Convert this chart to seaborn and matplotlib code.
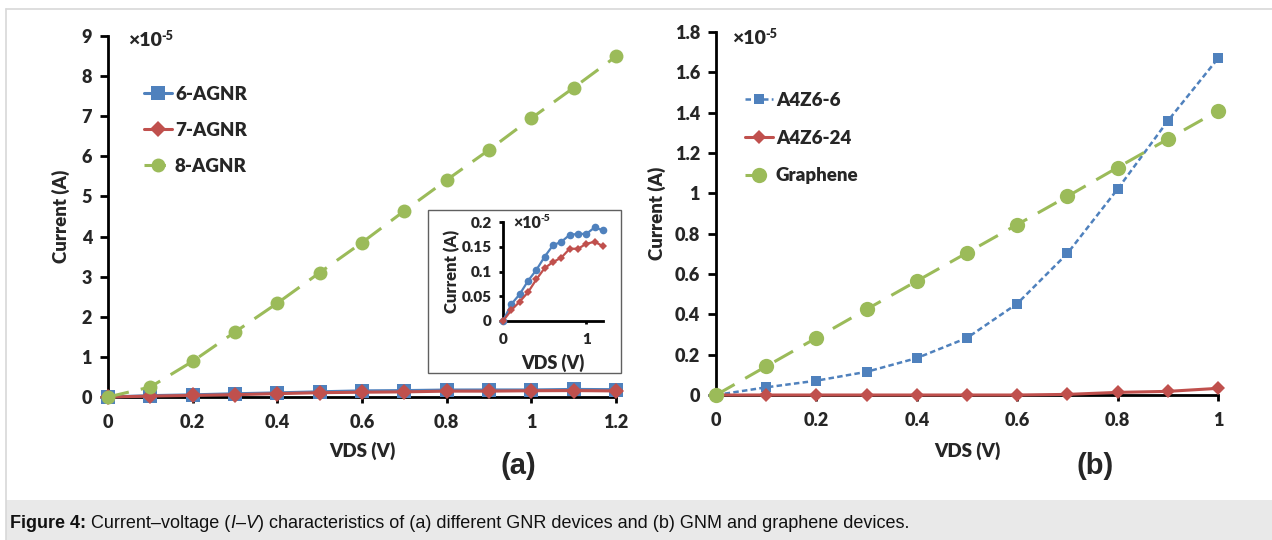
import matplotlib
matplotlib.use("Agg")
import matplotlib.pyplot as plt
import seaborn as sns
from matplotlib.patches import Rectangle
from matplotlib.lines import Line2D

# ---------------- data ----------------
vds_a = [0.0, 0.1, 0.2, 0.3, 0.4, 0.5, 0.6, 0.7, 0.8, 0.9, 1.0, 1.1, 1.2]
agnr6 = [0, 0.034, 0.054, 0.081, 0.103, 0.130, 0.153, 0.160, 0.174, 0.176, 0.176, 0.189, 0.183]
agnr7 = [0, 0.022, 0.039, 0.058, 0.084, 0.107, 0.119, 0.128, 0.146, 0.146, 0.156, 0.160, 0.151]
agnr8 = [0, 0.25, 0.89, 1.62, 2.34, 3.10, 3.85, 4.64, 5.41, 6.16, 6.95, 7.71, 8.49]

vds_b = [0.0, 0.1, 0.2, 0.3, 0.4, 0.5, 0.6, 0.7, 0.8, 0.9, 1.0]
a4z6_6 = [0, 0.038, 0.071, 0.115, 0.183, 0.283, 0.453, 0.702, 1.021, 1.359, 1.669]
a4z6_24 = [0, 0, 0, 0, 0, 0, 0, 0.003, 0.013, 0.018, 0.033]
graphene = [0, 0.142, 0.283, 0.425, 0.565, 0.705, 0.845, 0.985, 1.128, 1.269, 1.409]

yticks_a = [0, 1, 2, 3, 4, 5, 6, 7, 8, 9]
xticks_a = [0, 0.2, 0.4, 0.6, 0.8, 1.0, 1.2]
yticks_b = [0, 0.2, 0.4, 0.6, 0.8, 1.0, 1.2, 1.4, 1.6, 1.8]
xticks_b = [0, 0.2, 0.4, 0.6, 0.8, 1.0]
yticks_in = [0, 0.05, 0.1, 0.15, 0.2]
xticks_in = [0, 1]

caption_parts = [
    ("Figure 4: ", "bold", "normal"),
    ("Current–voltage (", "normal", "normal"),
    ("I", "normal", "italic"),
    ("–", "normal", "normal"),
    ("V", "normal", "italic"),
    (") characteristics of (a) different GNR devices and (b) GNM and graphene devices.",
     "normal", "normal"),
]

BLUE = "#4F81BD"
RED = "#C0504D"
GREEN = "#9BBB59"
WT = "heavy"

sns.set_style("ticks")
plt.rcParams["font.family"] = ["Lato", "DejaVu Sans"]

W, H = 1272, 540
fig = plt.figure(figsize=(W / 100, H / 100), dpi=100)
fig.patch.set_facecolor("white")


def px_axes(left, right, bottom, top):
    return fig.add_axes([left / W, 1 - bottom / H, (right - left) / W, (bottom - top) / H])


def fmt(v):
    return "%g" % v


def style_axes(ax, xt, yt, xlim, ylim, fs, lw=2.0, tl=5.5, xpad=8, ypad=6):
    ax.set_xlim(*xlim)
    ax.set_ylim(*ylim)
    ax.set_xticks(xt)
    ax.set_yticks(yt)
    ax.set_xticklabels([fmt(v) for v in xt], fontsize=fs, fontweight=WT)
    ax.set_yticklabels([fmt(v) for v in yt], fontsize=fs, fontweight=WT)
    for s in ["top", "right"]:
        ax.spines[s].set_visible(False)
    for s in ["left", "bottom"]:
        ax.spines[s].set_linewidth(lw)
        ax.spines[s].set_color("black")
    ax.tick_params(axis="both", direction="out", length=tl, width=lw, color="black")
    ax.tick_params(axis="x", pad=xpad, length=tl * 0.8)
    ax.tick_params(axis="y", pad=ypad)
    ax.set_facecolor("none")


def draw(ax, x, y, color, marker, ms, ls, lw, label, z):
    sns.lineplot(x=x, y=y, ax=ax, color=color, marker=marker, markersize=ms,
                 linestyle=ls, linewidth=lw, markeredgewidth=0, label=label,
                 zorder=z, clip_on=False, legend=False)


def exp_label(ax, x, y, fs_main, fs_sup):
    t = ax.text(x, y, "×10", transform=ax.transAxes, fontsize=fs_main,
                fontweight=WT, ha="left", va="center")
    ax.annotate("-5", xy=(1.0, 1.0), xycoords=t, xytext=(0, 1), textcoords="offset points",
                fontsize=fs_sup, fontweight=WT, ha="left", va="top")


# ---------------- panel (a) ----------------
axa = px_axes(108, 616, 397, 36)
draw(axa, vds_a, agnr6, BLUE, "s", 10, "-", 2.2, "6-AGNR", 3)
draw(axa, vds_a, agnr7, RED, "D", 8, "-", 2.2, "7-AGNR", 4)
draw(axa, vds_a, agnr8, GREEN, "o", 10, (0, (7, 4)), 2.2, "8-AGNR", 5)
style_axes(axa, xticks_a, yticks_a, (0, 1.2), (0, 9), 13)
axa.set_xlabel("VDS (V)", fontsize=13.5, fontweight=WT)
axa.set_ylabel("Current (A)", fontsize=13.5, fontweight=WT)
axa.xaxis.set_label_coords(0.5, -0.125)
axa.yaxis.set_label_coords(-0.075, 0.5)
exp_label(axa, (128 - 108) / 508, (397 - 40) / 361, 14, 9)
axa.legend(loc="upper left", bbox_to_anchor=((144 - 108) / 508, (397 - 86) / 361),
           frameon=False, borderpad=0, borderaxespad=0,
           handlelength=1.5, handletextpad=0.15, labelspacing=1.0,
           prop={"weight": WT, "size": 13.5})

# inset
box = Rectangle((428 / W, 1 - 373 / H), (621 - 428) / W, (373 - 210) / H,
                transform=fig.transFigure, facecolor="white", edgecolor="#606060",
                linewidth=1.0, zorder=10)
fig.patches.append(box)
axi = px_axes(503, 603, 321, 222)
axi.set_zorder(11)
draw(axi, vds_a, agnr6, BLUE, "o", 5.5, "-", 1.6, "6-AGNR", 3)
draw(axi, vds_a, agnr7, RED, "D", 4.5, "-", 1.6, "7-AGNR", 4)
style_axes(axi, xticks_in, yticks_in, (0, 1.2), (0, 0.2), 11, lw=2.0, tl=3, xpad=6, ypad=5)
axi.set_xlabel("VDS (V)", fontsize=13, fontweight=WT)
axi.set_ylabel("Current (A)", fontsize=12, fontweight=WT)
axi.xaxis.set_label_coords(0.5, -0.33)
axi.yaxis.set_label_coords(-0.43, 0.5)
exp_label(axi, 0.1, 0.99, 11.5, 7.5)

# ---------------- panel (b) ----------------
axb = px_axes(716, 1218, 395, 32)
draw(axb, vds_b, a4z6_6, BLUE, "s", 7.5, (0, (2.2, 1.3)), 1.8, "A4Z6-6", 3)
draw(axb, vds_b, a4z6_24, RED, "D", 7.5, "-", 2.2, "A4Z6-24", 4)
draw(axb, vds_b, graphene, GREEN, "o", 11, (0, (7, 4)), 2.2, "Graphene", 5)
style_axes(axb, xticks_b, yticks_b, (0, 1.0), (0, 1.8), 13)
axb.set_xlabel("VDS (V)", fontsize=13.5, fontweight=WT)
axb.set_ylabel("Current (A)", fontsize=13.5, fontweight=WT)
axb.xaxis.set_label_coords(0.5, -0.13)
axb.yaxis.set_label_coords(-0.10, 0.5)
exp_label(axb, (732 - 716) / 502, (395 - 38) / 363, 14, 9)
axb.legend(loc="upper left", bbox_to_anchor=((745 - 716) / 502, (395 - 92) / 363),
           frameon=False, borderpad=0, borderaxespad=0,
           handlelength=1.5, handletextpad=0.15, labelspacing=1.1,
           prop={"weight": WT, "size": 13.5})

# panel letters
fig.text(518 / W, 1 - 466 / H, "(a)", fontsize=21, fontweight="bold",
         family="Liberation Sans", ha="center", va="center")
fig.text(1095 / W, 1 - 466 / H, "(b)", fontsize=21, fontweight="bold",
         family="Liberation Sans", ha="center", va="center")

# frame and caption band
fig.patches.append(Rectangle((6 / W, 0), 1 - 6 / W, 40 / H, transform=fig.transFigure,
                             facecolor="#E9E9E9", edgecolor="none", zorder=0))
fig.lines.append(Line2D([6 / W, 6 / W], [0, 1 - 9 / H], transform=fig.transFigure,
                        color="#D8D8D8", linewidth=1.2))
fig.lines.append(Line2D([6 / W, 1], [1 - 9 / H, 1 - 9 / H], transform=fig.transFigure,
                        color="#D8D8D8", linewidth=1.2))

# caption drawn as consecutive segments on one baseline
fig.canvas.draw()
renderer = fig.canvas.get_renderer()
xpix = 10.0
ybase = 1 - 528 / H
for txt, weight, style in caption_parts:
    t = fig.text(xpix / W, ybase, txt, fontsize=13, family="Liberation Sans",
                 fontweight=weight, fontstyle=style, ha="left", va="baseline",
                 color="#111111")
    bb = t.get_window_extent(renderer=renderer)
    xpix += bb.width

fig.savefig("out.png", dpi=100, facecolor="white")
